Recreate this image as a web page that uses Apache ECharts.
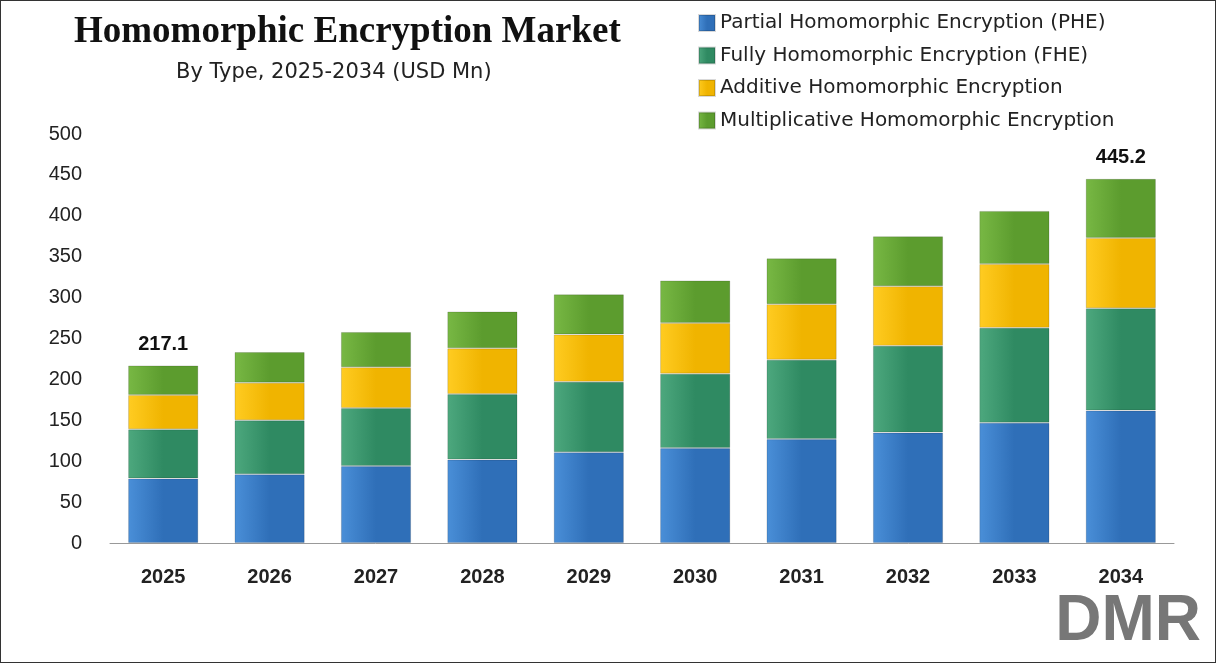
<!DOCTYPE html>
<html><head><meta charset="utf-8">
<script src="https://cdn.jsdelivr.net/npm/echarts@6/dist/echarts.min.js"></script>
<style>html,body{margin:0;padding:0;background:#fff}#c{width:1216px;height:663px;box-sizing:border-box;border:1.5px solid #333}</style>
</head><body><div id="c"></div>
<script>
const years = ['2025','2026','2027','2028','2029','2030','2031','2032','2033','2034'];
const phe  = [79, 84, 94, 102, 111, 116, 127, 135, 147, 162];
const fhe  = [60, 66, 71, 80, 86, 91, 97, 106, 116, 125];
const add  = [42, 46, 50, 56, 58, 62, 68, 73, 78, 86];
const mult = [36.1, 37.5, 43, 45, 49, 52, 56, 61, 65, 72.2];
const totalLabels = {0:'217.1', 9:'445.2'};
const names = ['Partial Homomorphic Encryption (PHE)','Fully Homomorphic Encryption (FHE)','Additive Homomorphic Encryption','Multiplicative Homomorphic Encryption'];
const cols = [['#2f6fb8','#4a8fd8'],['#2f8a62','#4da87e'],['#f0b400','#ffcc22'],['#5c9c2e','#78b844']];
function grad(c){return new echarts.graphic.LinearGradient(0,0,1,0,[{offset:0,color:c[1]},{offset:0.5,color:c[0]},{offset:1,color:c[0]}]);}
const data=[phe,fhe,add,mult];
const chart=echarts.init(document.getElementById('c'));
const series=data.map((d,i)=>({
  name:names[i],type:'bar',stack:'t',barWidth:'66%',data:d,
  itemStyle:{color:grad(cols[i]),borderColor:'rgba(0,0,0,0.15)',borderWidth:1},
  label: i===3?{show:true,position:'top',fontSize:20,fontWeight:'bold',color:'#111',fontFamily:'Liberation Sans',offset:[0,-6],
    formatter:p=>totalLabels[p.dataIndex]||''}:{show:false}
}));
chart.setOption({
  animation:false,
  title:[{text:'Homomorphic Encryption Market',left:68,top:8,textStyle:{fontFamily:'Liberation Serif',fontWeight:'bold',fontSize:37,color:'#111'}},
         {text:'By Type, 2025-2034 (USD Mn)',left:170,top:56,textStyle:{fontFamily:'DejaVu Sans',fontWeight:'normal',fontSize:21,color:'#222'}}],
  legend:{orient:'vertical',left:692,top:7,itemGap:12.5,itemWidth:16,itemHeight:16,icon:'rect',
    textStyle:{fontSize:20,fontFamily:'DejaVu Sans',color:'#222'},data:names},
  grid:{left:109,right:41,top:133,bottom:119},
  xAxis:{type:'category',data:years,axisTick:{show:false},axisLine:{lineStyle:{color:'#999'}},
    axisLabel:{fontSize:20,fontWeight:'bold',color:'#222',margin:24,fontFamily:'Liberation Sans'}},
  yAxis:{type:'value',min:0,max:500,interval:50,splitLine:{show:false},
    axisLabel:{fontSize:20,color:'#222',margin:28,fontFamily:'Liberation Sans'}},
  graphic:[{type:'text',right:14,bottom:8,style:{text:'DMR',fontSize:64,fontWeight:'bold',fontFamily:'Liberation Sans',fill:'#777'}}],
  series
});
</script></body></html>
